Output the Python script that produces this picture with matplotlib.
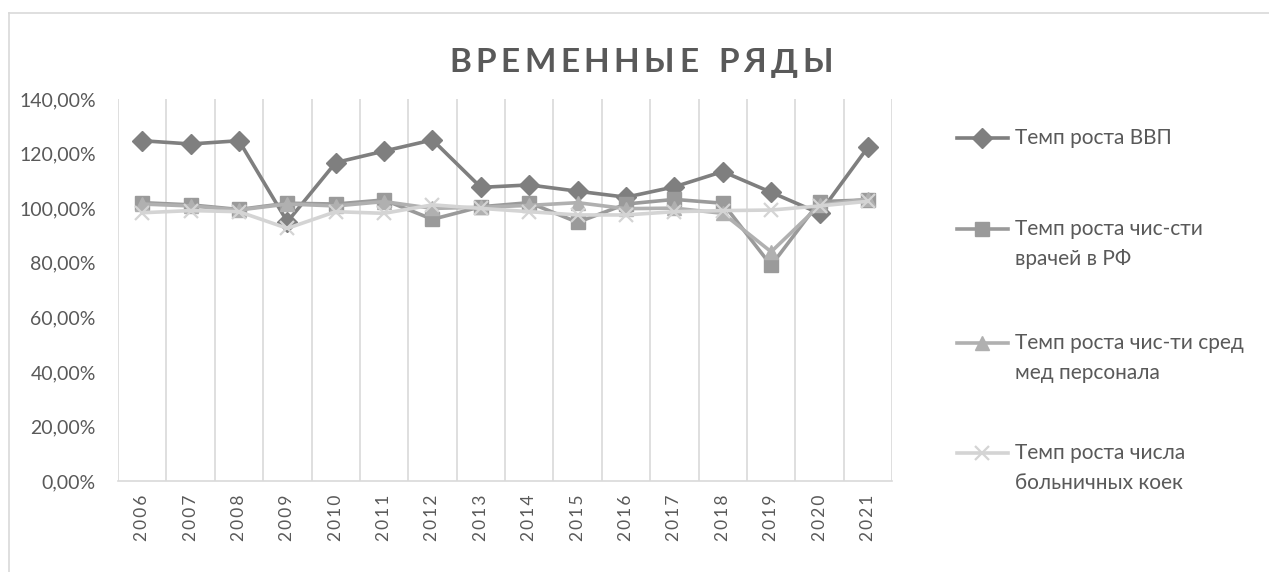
import numpy as np
import matplotlib.pyplot as plt
from matplotlib.lines import Line2D
from matplotlib.ticker import FuncFormatter

plt.rcParams['font.family'] = ['Lato', 'DejaVu Sans']

years = [str(y) for y in range(2006, 2022)]
gdp = [124.7, 123.5, 124.7, 95.0, 116.7, 120.9, 125.0, 107.6,
       108.5, 106.2, 104.0, 107.8, 113.4, 105.8, 98.1, 122.3]
doctors = [102.0, 101.2, 99.5, 101.8, 101.5, 103.0, 95.9, 100.5,
           102.0, 94.8, 101.5, 103.2, 101.8, 79.0, 102.4, 103.0]
nurses = [101.5, 100.8, 99.3, 101.5, 100.8, 102.4, 99.9, 100.3,
          101.0, 102.0, 99.8, 100.0, 98.1, 84.0, 101.0, 103.4]
beds = [98.3, 99.1, 98.7, 92.6, 98.7, 98.1, 101.2, 99.9,
        98.7, 97.5, 97.5, 98.7, 99.1, 99.3, 100.8, 102.5]

labels = ['Темп роста ВВП',
          'Темп роста чис-сти\nврачей в РФ',
          'Темп роста чис-ти сред\nмед персонала',
          'Темп роста числа\nбольничных коек']
title = 'ВРЕМЕННЫЕ РЯДЫ'

txt = '#595959'
W, H = 1269, 572
fig = plt.figure(figsize=(W / 100, H / 100), dpi=100)
ax = fig.add_axes([0.093, 0.159, 0.610, 0.668])

styles = [dict(color='#7f7f7f', marker='D', ms=10),
          dict(color='#9a9a9a', marker='s', ms=10.5),
          dict(color='#b0b0b0', marker='^', ms=10.5),
          dict(color='#d4d4d4', marker='x', ms=9.5, mew=1.6)]

x = np.arange(len(years))
for i, (vals, st) in enumerate(zip([gdp, doctors, nurses, beds], styles)):
    ax.plot(x, vals, lw=2.6, zorder=3 + i, **st)

ax.set_xlim(-0.5, len(years) - 0.5)
ax.set_ylim(0, 140)
ax.set_yticks(np.arange(0, 141, 20))
ax.yaxis.set_major_formatter(FuncFormatter(lambda v, p: f'{v:.2f}%'.replace('.', ',')))
ax.set_xticks(x)
ax.set_xticklabels(['\u2009'.join(y) for y in years], rotation=90)
for b in np.arange(-0.5, len(years), 1.0):
    ax.axvline(b, color='#d9d9d9', lw=1.2, zorder=0)

for s in ['top', 'right', 'left']:
    ax.spines[s].set_visible(False)
ax.spines['bottom'].set_color('#d9d9d9')
ax.spines['bottom'].set_linewidth(1.2)
ax.tick_params(axis='both', length=0, colors=txt)
ax.tick_params(axis='x', pad=10, labelsize=12.5)
ax.tick_params(axis='y', pad=16, labelsize=14)

# title with letter spacing, placed char by char
renderer = fig.canvas.get_renderer()
fs, gap = 24, 4.5
widths = []
for ch in title:
    t = fig.text(0, 0, ch if ch != ' ' else 'И', fontsize=fs, fontweight='bold')
    w = t.get_window_extent(renderer).width
    widths.append(w * (0.45 if ch == ' ' else 1.0))
    t.remove()
total = sum(widths) + gap * (len(title) - 1)
xpos = 641 - total / 2
for ch, w in zip(title, widths):
    fig.text(xpos / W, 1 - 63 / H, ch, fontsize=fs, fontweight='bold',
             color=txt, ha='left', va='center')
    xpos += w + gap

# legend drawn by hand: handle sits on the first text line
first_line = [138, 229, 343, 453]
for lab, st, yy in zip(labels, styles, first_line):
    fy = 1 - yy / H
    fig.add_artist(Line2D([957 / W, 982 / W, 1008 / W], [fy] * 3, lw=2.6,
                          markevery=[1], transform=fig.transFigure, **st))
    for k, line in enumerate(lab.split('\n')):
        fig.text(1015 / W, 1 - (yy + 30 * k) / H, line, fontsize=15,
                 color=txt, ha='left', va='center')

# chart area border
fig.add_artist(Line2D([9 / W, 1], [1 - 13 / H] * 2, color='#d9d9d9', lw=1.2))
fig.add_artist(Line2D([9 / W] * 2, [0, 1 - 13 / H], color='#d9d9d9', lw=1.2))

fig.savefig('out.png', dpi=100)
